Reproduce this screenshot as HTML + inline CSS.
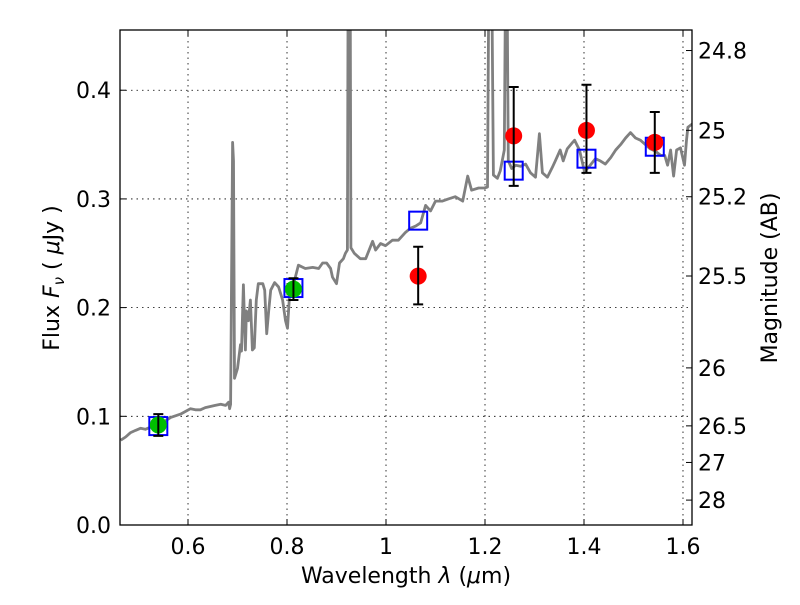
<!DOCTYPE html>
<html><head><meta charset="utf-8"><style>
html,body{margin:0;padding:0;background:#fff;}
svg text{font-family:"DejaVu Sans","Liberation Sans",sans-serif;fill:#000;}
</style></head><body>
<svg id="chart" width="800" height="600" viewBox="0 0 800 600" xmlns="http://www.w3.org/2000/svg">
<defs><clipPath id="clip"><rect x="120" y="30" width="572" height="495"/></clipPath></defs>
<rect width="800" height="600" fill="#fff"/>
<g id="grid"></g>
<g id="marks" clip-path="url(#clip)"></g>
<rect x="120" y="30" width="572" height="495" fill="none" stroke="#000" stroke-width="1.3"/>
<g id="axes"></g>
<text x="406" y="583" font-size="22" text-anchor="middle">Wavelength  <tspan font-style="italic">λ</tspan> (<tspan font-style="italic">μ</tspan>m)</text>
<text transform="translate(59,278) rotate(-90)" font-size="22" text-anchor="middle">Flux  <tspan font-style="italic">F</tspan><tspan font-style="italic" font-size="15" dy="5">ν</tspan><tspan dy="-5">  ( </tspan><tspan font-style="italic">μ</tspan>Jy )</text>
<text transform="translate(777,278) rotate(-90)" font-size="22" text-anchor="middle">Magnitude (AB)</text>
</svg>
<script>
const specWave=[0.464,0.474,0.484,0.494,0.504,0.514,0.524,0.535,0.545,0.555,0.565,0.585,0.597,0.605,0.615,0.625,0.635,0.645,0.655,0.666,0.676,0.682,0.684,0.686,0.690,0.692,0.694,0.700,0.706,0.708,0.712,0.716,0.718,0.722,0.726,0.730,0.734,0.738,0.742,0.751,0.755,0.759,0.763,0.767,0.775,0.783,0.791,0.797,0.801,0.805,0.813,0.823,0.837,0.852,0.864,0.872,0.880,0.888,0.892,0.900,0.906,0.914,0.918,0.922,0.924,0.927,0.929,0.932,0.936,0.948,0.959,0.973,0.979,0.989,0.999,1.013,1.025,1.039,1.049,1.060,1.070,1.080,1.090,1.100,1.114,1.126,1.140,1.155,1.165,1.173,1.187,1.199,1.205,1.209,1.212,1.217,1.225,1.231,1.239,1.243,1.247,1.254,1.262,1.272,1.282,1.292,1.302,1.310,1.316,1.326,1.336,1.342,1.352,1.358,1.366,1.377,1.381,1.391,1.401,1.411,1.423,1.433,1.443,1.454,1.464,1.474,1.484,1.494,1.504,1.514,1.524,1.534,1.544,1.555,1.563,1.569,1.575,1.581,1.587,1.595,1.603,1.607,1.610,1.619];
const specFlux=[0.078,0.081,0.085,0.087,0.089,0.088,0.090,0.092,0.094,0.096,0.099,0.102,0.105,0.107,0.106,0.106,0.108,0.109,0.110,0.111,0.110,0.113,0.107,0.111,0.352,0.335,0.135,0.144,0.166,0.160,0.221,0.161,0.197,0.188,0.207,0.161,0.163,0.207,0.222,0.222,0.216,0.176,0.197,0.216,0.223,0.219,0.207,0.188,0.181,0.211,0.221,0.239,0.236,0.237,0.236,0.241,0.241,0.236,0.228,0.222,0.241,0.245,0.250,0.253,0.600,0.600,0.255,0.253,0.250,0.245,0.245,0.261,0.253,0.259,0.257,0.262,0.262,0.269,0.273,0.275,0.278,0.294,0.289,0.298,0.298,0.300,0.302,0.298,0.321,0.308,0.310,0.310,0.311,0.600,0.600,0.322,0.319,0.326,0.345,0.600,0.335,0.328,0.331,0.330,0.332,0.324,0.320,0.360,0.324,0.320,0.329,0.335,0.345,0.335,0.346,0.352,0.354,0.345,0.325,0.330,0.337,0.335,0.332,0.338,0.345,0.350,0.356,0.361,0.356,0.354,0.350,0.346,0.344,0.340,0.340,0.331,0.345,0.321,0.345,0.347,0.331,0.354,0.366,0.369];
const photWave=[0.540,0.813];
const photFlux=[0.092,0.217];
const photErr=[0.010,0.010];
const modelWave=[0.540,0.813,1.065,1.258,1.405,1.543];
const modelFlux=[0.091,0.218,0.280,0.326,0.337,0.348];
const obsWave=[1.065,1.258,1.405,1.543];
const obsFlux=[0.229,0.358,0.363,0.352];
const obsLo=[0.203,0.312,0.324,0.324];
const obsHi=[0.256,0.403,0.405,0.380];
const xTicks=[0.6,0.8,1.0,1.2,1.4,1.6];
const xTickLabels=["0.6","0.8","1","1.2","1.4","1.6"];
const yTicks=[0.0,0.1,0.2,0.3,0.4];
const yTickLabels=["0.0","0.1","0.2","0.3","0.4"];
const magTicks=[24.8,25,25.2,25.5,26,26.5,27,28];
const magTickLabels=["24.8","25","25.2","25.5","26","26.5","27","28"];

const X0=120,X1=692,Y0=30,Y1=525,XMIN=0.4626,XMAX=1.6182,YMIN=0,YMAX=0.4554;
const sx=v=>X0+(v-XMIN)/(XMAX-XMIN)*(X1-X0);
const sy=v=>Y1-(v-YMIN)/(YMAX-YMIN)*(Y1-Y0);
const NS='http://www.w3.org/2000/svg';
function mk(tag,attrs,parent){const e=document.createElementNS(NS,tag);for(const k in attrs)e.setAttribute(k,attrs[k]);parent.appendChild(e);return e;}
const grid=document.getElementById('grid'),marks=document.getElementById('marks'),axes=document.getElementById('axes');

xTicks.forEach((t,i)=>{
  const x=sx(t);
  const g=mk('line',{x1:x,x2:x,y1:Y0,y2:Y1,stroke:'#000','stroke-width':0.8,'stroke-dasharray':'1.5,4'},grid);
  
  
  const a=mk('line',{x1:x,x2:x,y1:Y1,y2:Y1-6,stroke:'#000','stroke-width':1},axes);
  
  
  const b=mk('line',{x1:x,x2:x,y1:Y0,y2:Y0+6,stroke:'#000','stroke-width':1},axes);
  
  
  const l=mk('text',{x:x,y:Y1+29,'font-size':22,'text-anchor':'middle'},axes);
  l.textContent=xTickLabels[i];
  
  
});
yTicks.forEach((t,i)=>{
  const y=sy(t);
  if(t>0){const g=mk('line',{x1:X0,x2:X1,y1:y,y2:y,stroke:'#000','stroke-width':0.8,'stroke-dasharray':'1.5,4'},grid);
  
  }
  const a=mk('line',{x1:X0,x2:X0+6,y1:y,y2:y,stroke:'#000','stroke-width':1},axes);
  
  
  const l=mk('text',{x:X0-9,y:y+8,'font-size':22,'text-anchor':'end'},axes);
  l.textContent=yTickLabels[i];
  
  
});
magTicks.forEach((m,i)=>{
  const y=sy(Math.pow(10,(23.9-m)/2.5));
  const a=mk('line',{x1:X1,x2:X1-6,y1:y,y2:y,stroke:'#000','stroke-width':1},axes);
  
  
  const l=mk('text',{x:X1+6,y:y+8,'font-size':22,'text-anchor':'start'},axes);
  l.textContent=magTickLabels[i];
  
  
});

let d='';
specWave.forEach((w,i)=>{d+=(i?'L':'M')+sx(w).toFixed(1)+','+sy(specFlux[i]).toFixed(1);});
const spec=mk('path',{d:d,fill:'none',stroke:'#808080','stroke-width':2.8,'stroke-linejoin':'round'},marks);



modelWave.forEach((w,i)=>{
  const r=mk('rect',{x:sx(w)-9,y:sy(modelFlux[i])-9,width:18,height:18,fill:'none',stroke:'#0000ff','stroke-width':2},marks);
  
  
});
function errbar(x,lo,hi){
  const e=mk('path',{d:`M${x},${sy(lo)}L${x},${sy(hi)}M${x-5},${sy(lo)}L${x+5},${sy(lo)}M${x-5},${sy(hi)}L${x+5},${sy(hi)}`,stroke:'#000','stroke-width':2,fill:'none'},marks);
  
  
}
photWave.forEach((w,i)=>{
  const c=mk('circle',{cx:sx(w),cy:sy(photFlux[i]),r:8.5,fill:'#00bf00'},marks);
  
  
  errbar(sx(w),photFlux[i]-photErr[i],photFlux[i]+photErr[i]);
});
obsWave.forEach((w,i)=>{
  const c=mk('circle',{cx:sx(w),cy:sy(obsFlux[i]),r:8.5,fill:'#ff0000'},marks);
  
  
  errbar(sx(w),obsLo[i],obsHi[i]);
});
</script>
</body></html>
